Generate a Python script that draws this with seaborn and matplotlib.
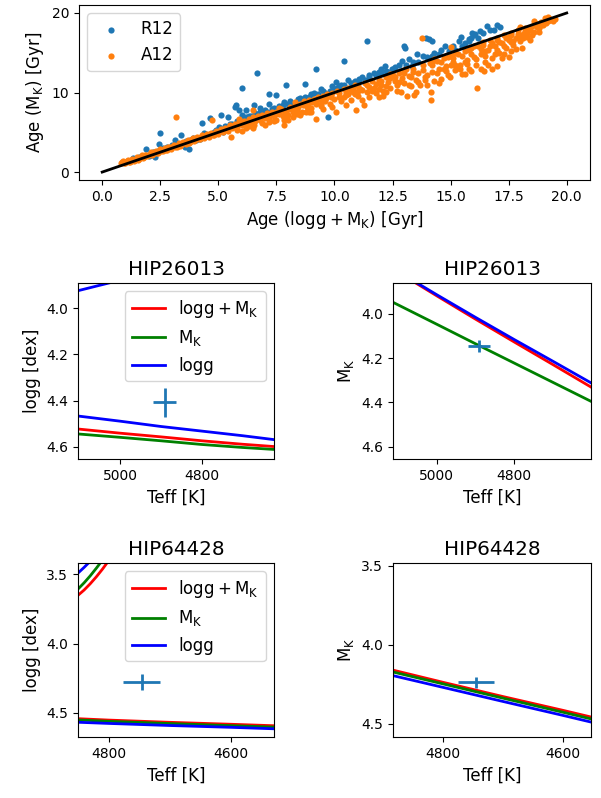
import matplotlib
matplotlib.use("Agg")
import matplotlib.pyplot as plt
import seaborn as sns
import pandas as pd

# -----------------------------
# Data
# -----------------------------
# (age from logg+MK, age from MK) in Gyr
r12_ages = [
    (1.33, 1.71), (1.5, 1.7), (1.6, 1.9), (1.8, 2.0), (1.9, 2.96), (2.02, 1.97), (2.1, 2.2),
    (2.2, 2.5), (2.26, 1.91), (2.4, 2.7), (2.43, 3.58), (2.47, 4.96), (2.6, 3.0), (2.8, 3.2),
    (2.9, 3.0), (3.0, 3.4), (3.15, 4.09), (3.2, 3.3), (3.3, 3.5), (3.4, 4.7), (3.5, 3.58),
    (3.58, 3.14), (3.6, 3.9), (3.73, 2.96), (3.8, 4.0), (3.9, 4.3), (4.05, 4.0), (4.2, 4.2),
    (4.28, 6.17), (4.4, 4.9), (4.5, 4.7), (4.62, 6.84), (4.7, 4.8), (4.8, 5.0), (4.9, 5.3),
    (5.05, 5.67), (5.12, 7.12), (5.19, 5.46), (5.2, 5.0), (5.3, 5.8), (5.4, 6.91), (5.5, 6.1),
    (5.55, 5.67), (5.6, 6.0), (5.7, 8.2), (5.76, 8.37), (5.8, 6.4), (5.9, 7.8), (5.9, 6.2),
    (6.0, 7.2), (6.02, 10.54), (6.1, 6.6), (6.19, 7.75), (6.2, 6.9), (6.3, 7.0), (6.4, 7.1),
    (6.5, 6.8), (6.55, 8.37), (6.6, 7.4), (6.67, 12.41), (6.8, 8.0), (6.8, 7.6), (6.9, 7.3),
    (7.0, 7.8), (7.1, 7.5), (7.17, 9.83), (7.2, 8.5), (7.3, 7.9), (7.4, 8.0), (7.48, 9.75),
    (7.6, 8.3), (7.7, 8.2), (7.8, 8.4), (7.84, 8.79), (7.91, 10.96), (8.0, 8.5), (8.1, 8.9),
    (8.2, 8.6), (8.3, 8.7), (8.41, 9.21), (8.5, 9.3), (8.6, 9.0), (8.73, 11.08), (8.75, 9.4),
    (8.8, 9.1), (8.9, 9.5), (8.98, 9.83), (9.0, 9.6), (9.1, 10.0), (9.2, 12.96), (9.3, 9.8),
    (9.41, 10.46), (9.5, 10.2), (9.6, 10.0), (9.73, 6.91), (9.8, 10.2), (9.91, 10.88), (10.0, 10.5),
    (10.06, 11.29), (10.1, 10.6), (10.2, 10.8), (10.3, 11.0), (10.4, 10.9), (10.41, 14.0),
    (10.6, 11.6), (10.7, 11.2), (10.8, 11.2), (10.9, 11.4), (11.0, 11.5), (11.06, 11.71),
    (11.2, 11.9), (11.3, 11.6), (11.42, 16.5), (11.49, 12.21), (11.5, 12.0), (11.7, 12.4),
    (11.8, 12.2), (11.9, 12.6), (11.99, 12.96), (12.0, 12.4), (12.17, 13.38), (12.2, 12.7),
    (12.3, 12.6), (12.46, 12.96), (12.5, 13.0), (12.6, 13.2), (12.8, 13.4), (12.92, 14.0),
    (12.99, 15.88), (13.05, 15.6), (13.1, 13.5), (13.2, 14.2), (13.35, 13.38), (13.4, 13.8),
    (13.56, 14.85), (13.6, 13.9), (13.8, 14.6), (13.92, 16.91), (14.0, 14.5), (14.05, 16.7),
    (14.18, 16.5), (14.2, 14.63), (14.3, 15.0), (14.5, 14.8), (14.6, 15.3), (14.78, 15.88),
    (14.92, 15.25), (15.0, 15.6), (15.1, 15.9), (15.2, 15.4), (15.35, 16.5), (15.45, 17.04),
    (15.5, 15.8), (15.6, 16.2), (15.78, 16.5), (15.8, 16.7), (15.9, 16.9), (15.92, 17.54),
    (16.0, 17.2), (16.06, 17.34), (16.2, 16.9), (16.28, 17.75), (16.4, 17.5), (16.57, 18.38),
    (16.7, 17.9), (16.89, 17.88), (17.0, 18.46), (17.14, 18.29),
]
a12_ages = [
    (0.8, 1.2), (0.85, 1.3), (0.9, 1.4), (0.95, 1.2), (1.0, 1.1), (1.05, 1.35), (1.1, 1.5),
    (1.15, 1.25), (1.2, 1.3), (1.25, 1.45), (1.3, 1.6), (1.35, 1.4), (1.4, 1.5), (1.45, 1.7),
    (1.5, 1.9), (1.55, 1.55), (1.6, 1.7), (1.65, 1.95), (1.7, 2.1), (1.75, 1.8), (1.8, 1.9),
    (1.85, 2.15), (1.9, 2.2), (1.95, 2.0), (2.0, 2.1), (2.05, 2.3), (2.1, 2.5), (2.15, 2.2),
    (2.2, 2.3), (2.25, 2.5), (2.3, 2.6), (2.35, 2.45), (2.4, 2.4), (2.45, 2.7), (2.5, 2.9),
    (2.55, 2.6), (2.6, 2.7), (2.65, 2.9), (2.7, 3.0), (2.75, 2.75), (2.8, 2.8), (2.85, 3.1),
    (2.9, 3.2), (2.95, 2.95), (3.0, 3.1), (3.05, 3.25), (3.1, 3.4), (3.15, 3.15), (3.19, 6.91),
    (3.2, 3.2), (3.25, 3.45), (3.3, 3.6), (3.35, 3.3), (3.4, 3.4), (3.45, 3.65), (3.5, 3.8),
    (3.55, 3.6), (3.6, 3.5), (3.65, 3.85), (3.7, 4.0), (3.75, 3.7), (3.8, 3.8), (3.85, 4.1),
    (3.9, 4.3), (3.95, 3.95), (4.0, 4.0), (4.05, 4.25), (4.1, 4.4), (4.15, 4.2), (4.2, 4.1),
    (4.25, 4.45), (4.3, 4.6), (4.35, 4.35), (4.4, 4.3), (4.45, 4.6), (4.5, 4.8), (4.55, 4.55),
    (4.6, 4.4), (4.65, 4.75), (4.73, 6.5), (4.7, 4.9), (4.75, 4.7), (4.8, 4.6), (4.85, 4.95),
    (4.9, 5.2), (4.95, 5.0), (5.0, 4.8), (5.05, 5.15), (5.1, 5.4), (5.15, 5.2), (5.2, 5.1),
    (5.25, 5.35), (5.3, 5.6), (5.35, 5.45), (5.4, 5.2), (5.45, 5.7), (5.5, 5.9), (5.55, 4.42),
    (5.6, 5.5), (5.65, 5.8), (5.7, 6.0), (5.8, 5.6), (5.8, 5.3), (5.85, 6.1), (5.9, 6.3),
    (5.9, 6.7), (6.0, 5.9), (6.0, 5.2), (6.05, 6.2), (6.1, 6.4), (6.2, 6.0), (6.2, 5.5),
    (6.25, 6.3), (6.3, 6.7), (6.3, 5.8), (6.4, 6.2), (6.45, 6.6), (6.48, 7.75), (6.5, 6.9),
    (6.5, 5.6), (6.55, 5.88), (6.6, 6.4), (6.65, 6.8), (6.7, 7.0), (6.8, 6.5), (6.85, 6.9),
    (6.9, 7.2), (6.9, 6.2), (7.0, 6.8), (7.0, 5.9), (7.05, 7.1), (7.1, 7.4), (7.2, 6.7),
    (7.2, 6.3), (7.25, 7.2), (7.3, 7.5), (7.4, 7.0), (7.4, 6.4), (7.45, 7.3), (7.5, 7.6),
    (7.5, 6.6), (7.6, 7.3), (7.6, 8.0), (7.65, 7.7), (7.7, 7.9), (7.8, 7.1), (7.84, 5.88),
    (7.84, 6.5), (7.85, 7.5), (7.9, 7.7), (7.9, 6.9), (8.0, 7.2), (8.0, 6.6), (8.05, 7.9),
    (8.1, 8.2), (8.2, 7.5), (8.2, 6.9), (8.25, 8.0), (8.3, 8.4), (8.3, 8.8), (8.4, 7.8),
    (8.4, 7.3), (8.45, 8.2), (8.5, 8.6), (8.5, 7.2), (8.6, 7.6), (8.65, 8.4), (8.7, 8.9),
    (8.77, 7.54), (8.8, 8.2), (8.85, 8.6), (8.9, 9.0), (8.9, 7.5), (9.0, 8.1), (9.0, 7.6),
    (9.05, 8.8), (9.1, 9.2), (9.2, 6.71), (9.2, 8.6), (9.25, 9.0), (9.3, 9.4), (9.4, 8.3),
    (9.4, 8.6), (9.45, 9.1), (9.5, 9.6), (9.5, 7.9), (9.6, 8.9), (9.65, 9.3), (9.7, 9.8),
    (9.8, 8.6), (9.85, 9.5), (9.9, 10.0), (9.9, 8.2), (10.0, 9.2), (10.06, 7.54), (10.1, 10.2),
    (10.2, 9.4), (10.2, 9.9), (10.3, 8.9), (10.4, 10.4), (10.4, 9.5), (10.48, 8.38), (10.5, 9.7),
    (10.5, 10.0), (10.6, 10.6), (10.6, 9.8), (10.7, 9.1), (10.7, 10.3), (10.8, 10.1), (10.8, 10.5),
    (10.91, 7.83), (10.9, 10.9), (10.9, 9.8), (11.0, 9.6), (11.0, 10.2), (11.0, 10.8), (11.1, 10.5),
    (11.2, 9.0), (11.2, 10.3), (11.27, 8.38), (11.3, 11.2), (11.4, 10.1), (11.4, 10.9), (11.5, 9.4),
    (11.5, 10.7), (11.6, 11.4), (11.6, 10.2), (11.7, 10.6), (11.8, 9.9), (11.8, 11.1), (11.91, 9.41),
    (11.9, 11.6), (11.9, 10.5), (12.0, 10.9), (12.0, 11.5), (12.1, 10.2), (12.1, 9.6), (12.2, 10.04),
    (12.2, 11.9), (12.2, 10.8), (12.3, 11.3), (12.4, 10.6), (12.4, 11.8), (12.4, 12.3), (12.5, 12.2),
    (12.6, 11.5), (12.6, 12.0), (12.7, 10.9), (12.7, 10.2), (12.8, 12.5), (12.8, 11.3),
    (12.86, 10.04), (12.9, 11.8), (13.0, 11.2), (13.0, 12.4), (13.0, 12.8), (13.13, 9.54),
    (13.1, 12.9), (13.2, 12.1), (13.2, 11.0), (13.3, 10.8), (13.3, 11.9), (13.43, 9.7), (13.4, 13.0),
    (13.4, 12.6), (13.5, 11.6), (13.53, 10.04), (13.6, 12.4), (13.6, 11.3), (13.75, 16.91),
    (13.7, 11.0), (13.8, 13.4), (13.8, 12.8), (13.9, 12.0), (13.9, 11.6), (14.0, 10.9), (14.0, 12.2),
    (14.1, 13.7), (14.16, 10.04), (14.17, 9.08), (14.2, 12.6), (14.2, 13.4), (14.2, 13.9),
    (14.3, 11.4), (14.3, 14.2), (14.4, 14.0), (14.4, 12.4), (14.5, 12.9), (14.5, 11.2), (14.6, 11.7),
    (14.6, 13.8), (14.7, 14.3), (14.7, 13.0), (14.8, 13.3), (14.8, 12.7), (14.9, 12.2), (14.9, 14.5),
    (14.99, 11.91), (15.0, 14.6), (15.0, 13.5), (15.02, 15.75), (15.1, 13.9), (15.1, 14.3),
    (15.2, 12.8), (15.2, 15.0), (15.2, 13.4), (15.3, 14.9), (15.3, 13.2), (15.4, 13.5), (15.4, 12.9),
    (15.5, 12.3), (15.5, 14.6), (15.6, 15.2), (15.6, 13.9), (15.64, 12.33), (15.7, 14.1),
    (15.7, 13.6), (15.8, 13.0), (15.8, 15.4), (15.9, 15.6), (15.9, 14.9), (15.9, 12.7), (16.0, 14.5),
    (16.0, 15.8), (16.14, 10.54), (16.1, 13.4), (16.1, 14.2), (16.2, 15.9), (16.3, 14.8),
    (16.3, 15.5), (16.3, 13.0), (16.4, 16.0), (16.42, 12.75), (16.4, 16.3), (16.5, 13.9),
    (16.5, 14.6), (16.5, 15.2), (16.6, 15.3), (16.6, 13.5), (16.7, 16.6), (16.7, 15.8), (16.8, 14.4),
    (16.8, 13.0), (16.8, 16.2), (16.9, 15.8), (16.9, 14.9), (17.0, 13.38), (17.0, 16.9), (17.0, 16.6),
    (17.0, 15.3), (17.1, 15.0), (17.1, 16.4), (17.2, 16.2), (17.2, 14.3), (17.3, 17.2), (17.3, 14.8),
    (17.3, 15.9), (17.4, 15.6), (17.4, 16.8), (17.5, 14.41), (17.5, 16.6), (17.5, 17.0), (17.6, 17.5),
    (17.6, 17.2), (17.6, 15.2), (17.6, 16.3), (17.7, 16.0), (17.7, 16.5), (17.8, 16.9), (17.8, 15.5),
    (17.9, 17.8), (17.9, 17.3), (18.0, 16.5), (18.0, 18.3), (18.0, 17.0), (18.07, 15.66),
    (18.1, 17.4), (18.1, 16.8), (18.2, 18.1), (18.2, 17.7), (18.3, 17.0), (18.3, 18.0), (18.3, 17.5),
    (18.4, 17.8), (18.4, 16.6), (18.5, 18.4), (18.5, 17.2), (18.6, 17.6), (18.6, 19.0), (18.7, 18.6),
    (18.7, 18.3), (18.8, 18.1), (18.8, 17.6), (18.9, 18.9), (18.9, 18.5), (19.0, 18.5),
    (19.07, 19.41), (19.1, 18.8), (19.2, 19.0), (19.2, 19.5), (19.3, 19.3), (19.3, 19.1),
    (19.4, 19.0), (19.5, 19.29),
]
one_to_one = [0, 20]

# HIP26013, logg panel
hip26_teff = [5120, 5000, 4900, 4800, 4700, 4600]
hip26_logg_both = [4.520, 4.541, 4.557, 4.574, 4.589, 4.602]
hip26_logg_mk = [4.542, 4.559, 4.574, 4.590, 4.603, 4.614]
hip26_logg_logg = [4.463, 4.489, 4.512, 4.532, 4.552, 4.574]
hip26_upper_teff = [5120, 5000, 4900]
hip26_upper_logg = [3.931, 3.878, 3.830]
# HIP26013, MK panel
hip26_mk_both = [3.792, 3.920, 4.025, 4.128, 4.230, 4.333]
hip26_mk_mk = [3.943, 4.048, 4.136, 4.223, 4.310, 4.397]
hip26_mk_logg = [3.790, 3.915, 4.017, 4.117, 4.215, 4.314]
hip26_star = {"teff": 4891, "logg": 4.408, "mk": 4.146}
hip26_err = {"teff": 28, "logg": 0.062, "mk": 0.025}

# HIP64428, logg panel
hip64_teff = [4860, 4800, 4700, 4600, 4520]
hip64_logg_both = [4.539, 4.551, 4.567, 4.581, 4.593]
hip64_logg_mk = [4.548, 4.560, 4.576, 4.591, 4.603]
hip64_logg_logg = [4.565, 4.575, 4.590, 4.603, 4.615]
hip64_up_teff = [4856, 4850, 4840, 4830, 4820, 4810, 4800]
hip64_up_logg_both = [3.672, 3.653, 3.615, 3.570, 3.520, 3.465, 3.405]
hip64_up_logg_mk = [3.628, 3.608, 3.563, 3.513, 3.458, 3.400, 3.340]
hip64_up_logg_logg = [3.514, 3.493, 3.452, 3.408, 3.360, 3.310, 3.260]
# HIP64428, MK panel
hip64_mk_teff = [4890, 4800, 4700, 4600, 4550]
hip64_mk_both = [4.155, 4.238, 4.328, 4.415, 4.460]
hip64_mk_mk = [4.167, 4.248, 4.338, 4.427, 4.472]
hip64_mk_logg = [4.190, 4.270, 4.359, 4.447, 4.492]
hip64_star = {"teff": 4746, "logg": 4.277, "mk": 4.238}
hip64_err = {"teff": 30, "logg": 0.06, "mk": 0.037}

plt.rcParams.update({
    "font.size": 12,
    "xtick.labelsize": 10,
    "ytick.labelsize": 10,
    "axes.titlesize": 14.4,
    "legend.fontsize": 12,
})

lab_both = r"$\mathrm{logg + M_K}$"
lab_mk = r"$\mathrm{M_K}$"

fig = plt.figure(figsize=(6.01, 7.98), dpi=100)

# -----------------------------
# Top: age comparison
# -----------------------------
ax = fig.add_axes([0.1314, 0.7744, 0.8502, 0.2193])
r12 = pd.DataFrame(r12_ages, columns=["both", "mk"])
a12 = pd.DataFrame(a12_ages, columns=["both", "mk"])
sns.scatterplot(data=r12, x="both", y="mk", color="#1f77b4", s=20, linewidth=0, label="R12", ax=ax)
sns.scatterplot(data=a12, x="both", y="mk", color="#ff7f0e", s=20, linewidth=0, label="A12", ax=ax)
sns.lineplot(x=one_to_one, y=one_to_one, color="k", lw=2, ax=ax)
ax.set_xlim(-1, 21)
ax.set_ylim(-1, 21)
ax.set_xticks([0, 2.5, 5, 7.5, 10, 12.5, 15, 17.5, 20])
ax.set_yticks([0, 10, 20])
ax.set_xlabel(r"Age ($\mathrm{logg + M_K}$) [Gyr]")
ax.set_ylabel(r"Age ($\mathrm{M_K}$) [Gyr]")
ax.legend(loc="upper left")


def curve(ax, x, y, color, label=None):
    sns.lineplot(x=x, y=y, color=color, lw=2, sort=False, errorbar=None,
                 label=label, legend=False, ax=ax)


def star(ax, teff, val, xerr, yerr):
    ax.errorbar([teff], [val], xerr=[xerr], yerr=[yerr], fmt="none",
                ecolor="#1f77b4", elinewidth=2)


# -----------------------------
# HIP26013
# -----------------------------
ax = fig.add_axes([0.1298, 0.4248, 0.3261, 0.2206])
curve(ax, hip26_teff, hip26_logg_both, "r", lab_both)
curve(ax, hip26_teff, hip26_logg_mk, "g", lab_mk)
curve(ax, hip26_teff, hip26_logg_logg, "b", "logg")
curve(ax, hip26_upper_teff, hip26_upper_logg, "b")
star(ax, hip26_star["teff"], hip26_star["logg"], hip26_err["teff"], hip26_err["logg"])
ax.set_xlim(5103, 4623)
ax.set_ylim(4.653, 3.89)
ax.set_xticks([5000, 4800])
ax.set_yticks([4.0, 4.2, 4.4, 4.6])
ax.set_title("HIP26013")
ax.set_xlabel("Teff [K]")
ax.set_ylabel("logg [dex]")
ax.legend(loc="upper right")

ax = fig.add_axes([0.6539, 0.4248, 0.3295, 0.2206])
curve(ax, hip26_teff, hip26_mk_both, "r")
curve(ax, hip26_teff, hip26_mk_mk, "g")
curve(ax, hip26_teff, hip26_mk_logg, "b")
star(ax, hip26_star["teff"], hip26_star["mk"], hip26_err["teff"], hip26_err["mk"])
ax.set_xlim(5113, 4602)
ax.set_ylim(4.655, 3.862)
ax.set_xticks([5000, 4800])
ax.set_yticks([4.0, 4.2, 4.4, 4.6])
ax.set_title("HIP26013")
ax.set_xlabel("Teff [K]")
ax.set_ylabel(lab_mk)

# -----------------------------
# HIP64428
# -----------------------------
ax = fig.add_axes([0.1298, 0.0764, 0.3261, 0.2180])
curve(ax, hip64_teff, hip64_logg_both, "r", lab_both)
curve(ax, hip64_teff, hip64_logg_mk, "g", lab_mk)
curve(ax, hip64_teff, hip64_logg_logg, "b", "logg")
curve(ax, hip64_up_teff, hip64_up_logg_both, "r")
curve(ax, hip64_up_teff, hip64_up_logg_mk, "g")
curve(ax, hip64_up_teff, hip64_up_logg_logg, "b")
star(ax, hip64_star["teff"], hip64_star["logg"], hip64_err["teff"], hip64_err["logg"])
ax.set_xlim(4850, 4529)
ax.set_ylim(4.673, 3.421)
ax.set_xticks([4800, 4600])
ax.set_yticks([3.5, 4.0, 4.5])
ax.set_title("HIP64428")
ax.set_xlabel("Teff [K]")
ax.set_ylabel("logg [dex]")
ax.legend(loc="upper right")

ax = fig.add_axes([0.6539, 0.0764, 0.3295, 0.2180])
curve(ax, hip64_mk_teff, hip64_mk_both, "r")
curve(ax, hip64_mk_teff, hip64_mk_mk, "g")
curve(ax, hip64_mk_teff, hip64_mk_logg, "b")
star(ax, hip64_star["teff"], hip64_star["mk"], hip64_err["teff"], hip64_err["mk"])
ax.set_xlim(4884, 4553)
ax.set_ylim(4.584, 3.483)
ax.set_xticks([4800, 4600])
ax.set_yticks([3.5, 4.0, 4.5])
ax.set_title("HIP64428")
ax.set_xlabel("Teff [K]")
ax.set_ylabel(lab_mk)

plt.savefig("out.png", dpi=100)
plt.close()
